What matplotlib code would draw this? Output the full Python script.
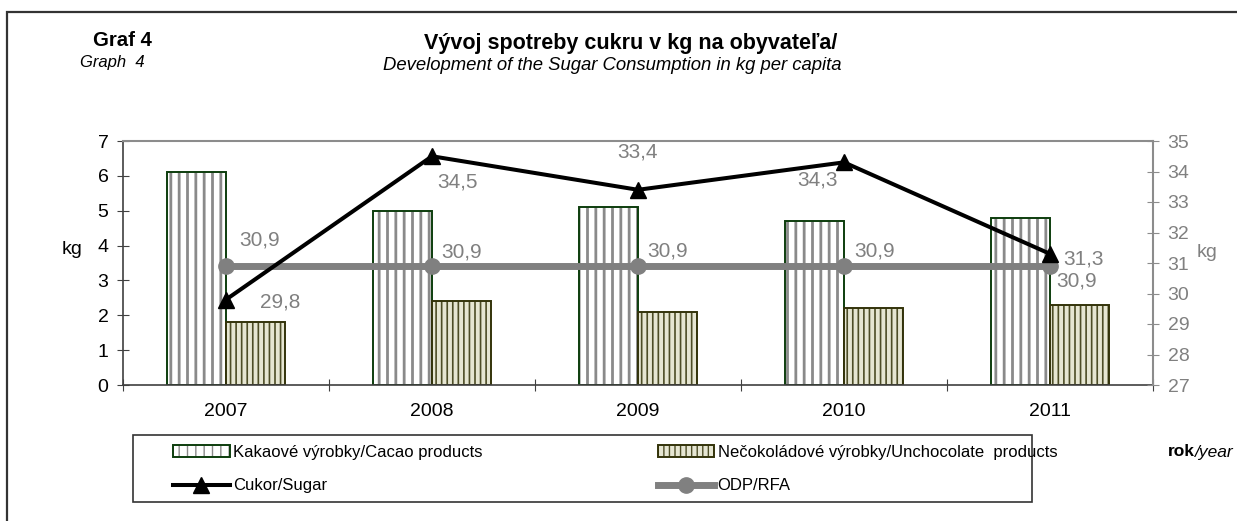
import matplotlib
matplotlib.use('Agg')
import matplotlib.pyplot as plt
from matplotlib.patches import Rectangle
from matplotlib.legend_handler import HandlerTuple
import numpy as np

plt.rcParams['font.family'] = ['Liberation Sans', 'DejaVu Sans']

""" Data """

years = ['2007', '2008', '2009', '2010', '2011']
cacao = [6.1, 5.0, 5.1, 4.7, 4.8]
unchoco = [1.8, 2.4, 2.1, 2.2, 2.3]
sugar = [29.8, 34.5, 33.4, 34.3, 31.3]
odp = [30.9, 30.9, 30.9, 30.9, 30.9]

# label offsets in pixels, (dx, dy)
sugar_offsets = [(54, -2), (25, -26), (0, 38), (-27, -18), (33, -5)]
odp_offsets = [(34, 26), (30, 14), (30, 15), (31, 15), (27, -15)]

W, H = 1237, 521
fig = plt.figure(figsize=(W / 100, H / 100), dpi=100)

# outer frame
fig.patches.append(Rectangle((7 / W, -0.1), 1.2, (H - 12) / H + 0.1, transform=fig.transFigure,
                             fill=False, edgecolor='#333333', linewidth=1.6))

ax = fig.add_axes([123 / W, (H - 385) / H, (1153 - 123) / W, (385 - 141) / H])
x = np.arange(len(years))
w = 0.286

with plt.rc_context({'hatch.color': '#8a8a8a', 'hatch.linewidth': 2.0}):
    b1 = ax.bar(x - w / 2, cacao, w, color='white', hatch='||', linewidth=0)
b1e = ax.bar(x - w / 2, cacao, w, fill=False, edgecolor='#0d3d0d', linewidth=1.4)
with plt.rc_context({'hatch.color': '#4d4d26', 'hatch.linewidth': 1.2}):
    b2 = ax.bar(x + w / 2, unchoco, w, color='#e6e6d2', hatch='|||', linewidth=0)
b2e = ax.bar(x + w / 2, unchoco, w, fill=False, edgecolor='#33330a', linewidth=1.4)

ax.set_xlim(-0.5, len(years) - 0.5)
ax.set_ylim(0, 7)
ax.set_yticks(range(0, 8))
ax.set_xticks(np.arange(-0.5, len(years), 1))
ax.set_xticklabels([])
ax.set_xticks(x, minor=True)
ax.set_xticklabels(years, minor=True)
ax.tick_params(axis='x', which='minor', length=0, pad=13, labelsize=14)
ax.tick_params(axis='x', which='major', direction='inout', length=9, color='#404040')
ax.tick_params(axis='y', direction='inout', length=9, color='#404040', labelsize=14, pad=6)
ax.spines['left'].set_color('#404040')
ax.spines['bottom'].set_color('#404040')
ax.spines['top'].set_color('#8c8c8c')
ax.spines['right'].set_visible(False)
ax.spines['left'].set_linewidth(1.2)
ax.spines['bottom'].set_linewidth(1.2)
ax.spines['top'].set_linewidth(1.5)

ax2 = ax.twinx()
ax2.set_ylim(27, 35)
ax2.set_yticks(range(27, 36))
ax2.tick_params(axis='y', direction='inout', length=9, color='#8c8c8c', labelcolor='#808080',
                labelsize=14, pad=6)
for s in ['left', 'bottom', 'top']:
    ax2.spines[s].set_visible(False)
ax2.spines['right'].set_color('#8c8c8c')
ax2.spines['right'].set_linewidth(1.5)

l_odp, = ax2.plot(x, odp, color='#808080', linewidth=5, marker='o', markersize=11)
l_sug, = ax2.plot(x, sugar, color='black', linewidth=2.9, marker='^', markersize=11)

for i in range(len(years)):
    ax2.annotate(f'{sugar[i]:.1f}'.replace('.', ','), (x[i], sugar[i]), xytext=sugar_offsets[i],
                 textcoords='offset pixels', ha='center', va='center', color='#808080', fontsize=15)
    ax2.annotate(f'{odp[i]:.1f}'.replace('.', ','), (x[i], odp[i]), xytext=odp_offsets[i],
                 textcoords='offset pixels', ha='center', va='center', color='#808080', fontsize=15)

fig.text(72 / W, 1 - 250 / H, 'kg', ha='center', va='center', fontsize=14)
fig.text(1207 / W, 1 - 253 / H, 'kg', ha='center', va='center', fontsize=14, color='#808080')

# titles
fig.text(631 / W, 1 - 43 / H, 'Vývoj spotreby cukru v kg na obyvateľa/', ha='center', va='center',
         fontsize=15.5, fontweight='bold')
fig.text(612 / W, 1 - 65 / H, 'Development of the Sugar Consumption in kg per capita', ha='center',
         va='center', fontsize=13.3, style='italic')
fig.text(122 / W, 1 - 41 / H, 'Graf 4', ha='center', va='center', fontsize=14.7, fontweight='bold')
fig.text(112 / W, 1 - 63 / H, 'Graph  4', ha='center', va='center', fontsize=12, style='italic')

# legend
fig.patches.append(Rectangle((133 / W, 1 - 502 / H), (1032 - 133) / W, (502 - 435) / H,
                             transform=fig.transFigure, fill=False, edgecolor='#333333', linewidth=1.2))
handles = [(b1[0], b1e[0]), (l_sug,), (b2[0], b2e[0]), (l_odp,)]
labels = ['Kakaové výrobky/Cacao products', 'Cukor/Sugar',
          'Nečokoládové výrobky/Unchocolate  products', 'ODP/RFA']
fig.legend(handles, labels, handler_map={tuple: HandlerTuple(ndivide=1)}, ncol=2, frameon=False,
           loc='upper left', bbox_to_anchor=(173 / W, 1 - 445 / H), fontsize=12,
           handlelength=3.4, handletextpad=0.2, columnspacing=10.5, labelspacing=1.1,
           borderaxespad=0, borderpad=0)

fig.text(1168 / W, 1 - 452 / H, 'rok', ha='left', va='center', fontsize=12.5, fontweight='bold')
fig.text(1195 / W, 1 - 452 / H, '/year', ha='left', va='center', fontsize=12.5, style='italic')

fig.savefig('out.png', dpi=100)
